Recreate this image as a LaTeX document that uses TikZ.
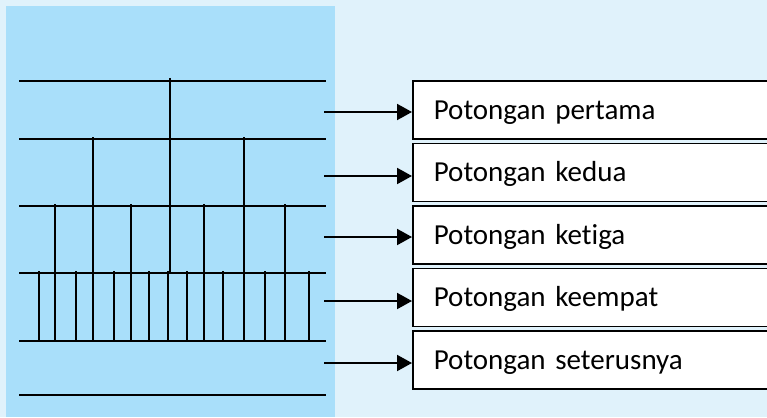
\documentclass[tikz,border=0pt]{standalone}
\usepackage{fontspec}
\setmainfont[Ligatures={NoCommon}]{Carlito}
\usetikzlibrary{arrows.meta,positioning}
\definecolor{pagebg}{RGB}{224,242,251}
\definecolor{panel}{RGB}{169,223,250}
\def\LvA{81}
\def\LvB{139}
\def\LvC{206}
\def\LvD{273}
\def\LvE{341}
\def\LvF{395}
\def\BxX{412}
\tikzset{
  cutline/.style={line width=1.6pt, draw=black},
  piece/.style={
    draw=black, line width=1.6pt, fill=white, anchor=north west,
    minimum height=58pt, text width=330pt, align=left, inner xsep=21pt,
    text height=19pt, text depth=0pt,
    font=\fontsize{29}{34}\selectfont,
  },
  arr/.style={-{Triangle[length=15pt,width=16pt]}, line width=2pt, draw=black},
}
\begin{document}
\begin{tikzpicture}[x=1pt,y=-1pt]
  \useasboundingbox (0,0) rectangle (767,417);
  \clip (0,0) rectangle (767,417);
  \fill[pagebg] (0,0) rectangle (767,417);
  \fill[panel] (6,6) rectangle (335,417);

  % cut levels
  \foreach \y in {\LvA,\LvB,\LvC,\LvD,\LvE,\LvF}
    \draw[cutline] (19,\y) -- (326,\y);
  \draw[cutline] (170,\LvA-3) -- (170,\LvD);
  \foreach \x in {93,244}
    \draw[cutline] (\x,\LvB-2) -- (\x,\LvE);
  \foreach \x in {55,131,204,285}
    \draw[cutline] (\x,\LvC-2) -- (\x,\LvE);
  \foreach \x in {39,76,114,149,168,187,223,265,309}
    \draw[cutline] (\x,\LvD-2) -- (\x,\LvE);

  % pieces
  \node[piece] (p1) at (\BxX,80) {Potongan pertama};
  \node[piece] (p2) at (\BxX,142.5) {Potongan kedua};
  \node[piece] (p3) at (\BxX,205) {Potongan ketiga};
  \node[piece] (p4) at (\BxX,267.5) {Potongan keempat};
  \node[piece] (p5) at (\BxX,330) {Potongan seterusnya};

  \coordinate (a1) at (324,112);
  \coordinate (a2) at (324,176);
  \coordinate (a3) at (324,237);
  \coordinate (a4) at (324,301);
  \coordinate (a5) at (324,363);
  \foreach \i in {1,...,5}
    \draw[arr] (a\i) -- (a\i -| p\i.west);
\end{tikzpicture}
\end{document}
